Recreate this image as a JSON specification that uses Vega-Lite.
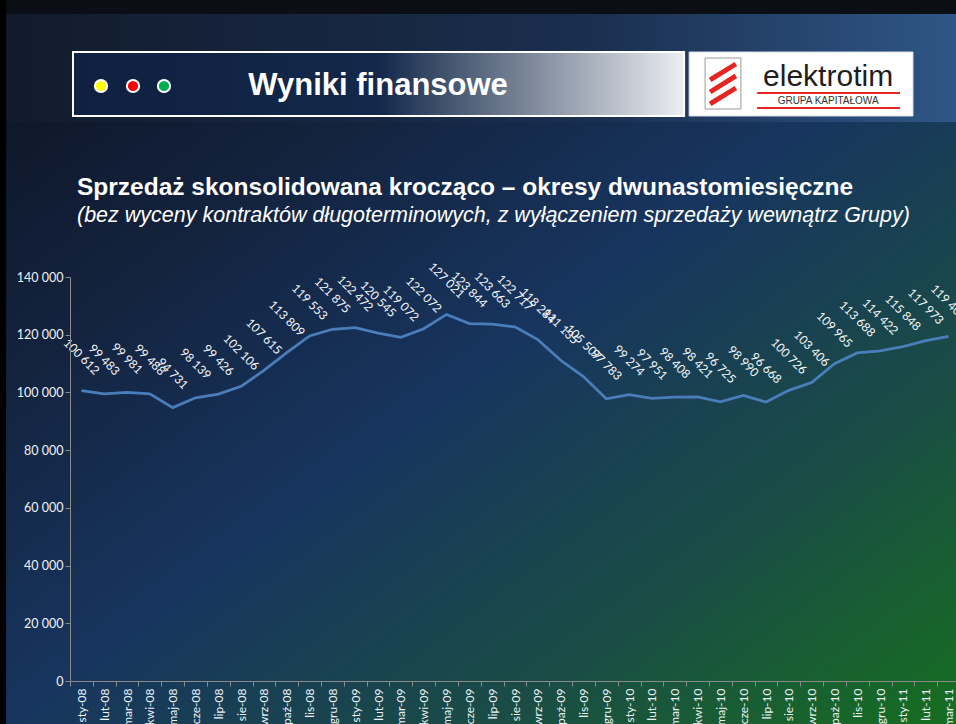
{
  "$schema": "https://vega.github.io/schema/vega-lite/v6.json",
  "autosize": {"type": "none"},
  "padding": {"left": 70, "top": 277, "right": 0, "bottom": 43},
  "width": 890,
  "height": 404,
  "background": "#0d1524",
  "config": {
    "view": {"stroke": null},
    "locale": {"number": {"decimal": ",", "thousands": " ", "grouping": [3], "currency": ["", ""]}}
  },
  "datasets": {
    "sprzedaz": [
      {"m": "sty-08", "v": 100612}, {"m": "lut-08", "v": 99483}, {"m": "mar-08", "v": 99981}, {"m": "kwi-08", "v": 99488},
      {"m": "maj-08", "v": 94731}, {"m": "cze-08", "v": 98139}, {"m": "lip-08", "v": 99426}, {"m": "sie-08", "v": 102106},
      {"m": "wrz-08", "v": 107615}, {"m": "paź-08", "v": 113809}, {"m": "lis-08", "v": 119553}, {"m": "gru-08", "v": 121875},
      {"m": "sty-09", "v": 122472}, {"m": "lut-09", "v": 120545}, {"m": "mar-09", "v": 119072}, {"m": "kwi-09", "v": 122072},
      {"m": "maj-09", "v": 127021}, {"m": "cze-09", "v": 123844}, {"m": "lip-09", "v": 123663}, {"m": "sie-09", "v": 122717},
      {"m": "wrz-09", "v": 118284}, {"m": "paź-09", "v": 111135}, {"m": "lis-09", "v": 105507}, {"m": "gru-09", "v": 97783},
      {"m": "sty-10", "v": 99274}, {"m": "lut-10", "v": 97951}, {"m": "mar-10", "v": 98408}, {"m": "kwi-10", "v": 98421},
      {"m": "maj-10", "v": 96725}, {"m": "cze-10", "v": 98990}, {"m": "lip-10", "v": 96668}, {"m": "sie-10", "v": 100726},
      {"m": "wrz-10", "v": 103406}, {"m": "paź-10", "v": 109965}, {"m": "lis-10", "v": 113688}, {"m": "gru-10", "v": 114422},
      {"m": "sty-11", "v": 115848}, {"m": "lut-11", "v": 117973}, {"m": "mar-11", "v": 119404}
    ],
    "one": [{}]
  },
  "layer": [
    {
      "data": {"name": "one"},
      "mark": {"type": "rect", "fill": {"gradient": "linear", "x1": 0, "y1": 0, "x2": 1, "y2": 1, "stops": [{"offset": 0, "color": "#0b1220"}, {"offset": 0.25, "color": "#13213b"}, {"offset": 0.5, "color": "#17355f"}, {"offset": 0.75, "color": "#1a4d45"}, {"offset": 1, "color": "#16721c"}]}},
      "encoding": {
        "x": {"datum": "sty-08", "type": "ordinal", "bandPosition": -4}, "x2": {"datum": "sty-08", "bandPosition": 40},
        "y": {"datum": 240000, "type": "quantitative", "scale": {"domain": [0, 140000], "nice": false, "zero": false}}, "y2": {"datum": -20000}
      }
    },
    {
      "data": {"name": "one"},
      "mark": {"type": "rect", "fill": "#0b0e14"},
      "encoding": {
        "x": {"datum": "sty-08", "type": "ordinal", "bandPosition": -4}, "x2": {"datum": "sty-08", "bandPosition": 40},
        "y": {"datum": 240000, "type": "quantitative", "scale": {"domain": [0, 140000], "nice": false, "zero": false}}, "y2": {"datum": 231139}
      }
    },
    {
      "data": {"name": "one"},
      "mark": {"type": "rect", "fill": {"gradient": "linear", "x1": 0, "y1": 0, "x2": 1, "y2": 0, "stops": [{"offset": 0, "color": "#111a2b"}, {"offset": 0.6, "color": "#1a2e4e"}, {"offset": 1, "color": "#30598a"}]}},
      "encoding": {
        "x": {"datum": "sty-08", "type": "ordinal", "bandPosition": -4}, "x2": {"datum": "sty-08", "bandPosition": 40},
        "y": {"datum": 231139, "type": "quantitative", "scale": {"domain": [0, 140000], "nice": false, "zero": false}}, "y2": {"datum": 193713}
      }
    },
    {
      "data": {"name": "one"},
      "mark": {"type": "rect", "fill": "#000000"},
      "encoding": {
        "x": {"datum": "sty-08", "type": "ordinal", "bandPosition": -4}, "x2": {"datum": "sty-08", "bandPosition": -2.8},
        "y": {"datum": 240000, "type": "quantitative", "scale": {"domain": [0, 140000], "nice": false, "zero": false}}, "y2": {"datum": -20000}
      }
    },
    {
      "data": {"name": "one"},
      "mark": {"type": "rect", "stroke": "#ffffff", "strokeWidth": 2, "fill": {"gradient": "linear", "x1": 0, "y1": 0, "x2": 1, "y2": 0, "stops": [{"offset": 0, "color": "#0f2040"}, {"offset": 0.5, "color": "#13284a"}, {"offset": 0.78, "color": "#8a95a5"}, {"offset": 1, "color": "#eceef2"}]}},
      "encoding": {
        "x": {"datum": "sty-08", "type": "ordinal", "bandPosition": 0.131}, "x2": {"datum": "sty-08", "bandPosition": 26.91},
        "y": {"datum": 217970, "type": "quantitative", "scale": {"domain": [0, 140000], "nice": false, "zero": false}}, "y2": {"datum": 195792}
      }
    },
    {
      "data": {"name": "one"},
      "mark": {"type": "rect", "fill": "#ffffff", "stroke": "#d8dde5", "strokeWidth": 1},
      "encoding": {
        "x": {"datum": "sty-08", "type": "ordinal", "bandPosition": 27.13}, "x2": {"datum": "sty-08", "bandPosition": 36.94},
        "y": {"datum": 217970, "type": "quantitative", "scale": {"domain": [0, 140000], "nice": false, "zero": false}}, "y2": {"datum": 195792}
      }
    },
    {
      "data": {"name": "one"},
      "mark": {"type": "rect", "fill": "#ffffff", "stroke": "#9a9a9a", "strokeWidth": 1},
      "encoding": {
        "x": {"datum": "sty-08", "type": "ordinal", "bandPosition": 27.83}, "x2": {"datum": "sty-08", "bandPosition": 29.40},
        "y": {"datum": 215891, "type": "quantitative", "scale": {"domain": [0, 140000], "nice": false, "zero": false}}, "y2": {"datum": 198218}
      }
    },
    {
      "data": {"name": "one"},
      "mark": {"type": "rule", "stroke": "#e52521", "strokeWidth": 5},
      "encoding": {
        "x": {"datum": "sty-08", "type": "ordinal", "bandPosition": 28.05}, "x2": {"datum": "sty-08", "bandPosition": 29.18},
        "y": {"datum": 208268, "type": "quantitative", "scale": {"domain": [0, 140000], "nice": false, "zero": false}}, "y2": {"datum": 213812}
      }
    },
    {
      "data": {"name": "one"},
      "mark": {"type": "rule", "stroke": "#e52521", "strokeWidth": 5},
      "encoding": {
        "x": {"datum": "sty-08", "type": "ordinal", "bandPosition": 28.05}, "x2": {"datum": "sty-08", "bandPosition": 29.18},
        "y": {"datum": 204109, "type": "quantitative", "scale": {"domain": [0, 140000], "nice": false, "zero": false}}, "y2": {"datum": 209654}
      }
    },
    {
      "data": {"name": "one"},
      "mark": {"type": "rule", "stroke": "#e52521", "strokeWidth": 5},
      "encoding": {
        "x": {"datum": "sty-08", "type": "ordinal", "bandPosition": 28.05}, "x2": {"datum": "sty-08", "bandPosition": 29.18},
        "y": {"datum": 199951, "type": "quantitative", "scale": {"domain": [0, 140000], "nice": false, "zero": false}}, "y2": {"datum": 205495}
      }
    },
    {
      "data": {"name": "one"},
      "mark": {"type": "rule", "stroke": "#e52521", "strokeWidth": 2},
      "encoding": {
        "x": {"datum": "sty-08", "type": "ordinal", "bandPosition": 30.11}, "x2": {"datum": "sty-08", "bandPosition": 36.37},
        "y": {"datum": 203763, "type": "quantitative", "scale": {"domain": [0, 140000], "nice": false, "zero": false}}
      }
    },
    {
      "data": {"name": "one"},
      "mark": {"type": "rule", "stroke": "#e52521", "strokeWidth": 2},
      "encoding": {
        "x": {"datum": "sty-08", "type": "ordinal", "bandPosition": 30.11}, "x2": {"datum": "sty-08", "bandPosition": 36.37},
        "y": {"datum": 198565, "type": "quantitative", "scale": {"domain": [0, 140000], "nice": false, "zero": false}}
      }
    },
    {
      "data": {"name": "one"},
      "mark": {"type": "text", "text": "elektrotim", "font": "Liberation Sans", "fontSize": 30, "color": "#1e1e1e", "align": "center", "baseline": "middle"},
      "encoding": {"x": {"datum": "sty-08", "type": "ordinal", "bandPosition": 33.22}, "y": {"datum": 209307, "type": "quantitative", "scale": {"domain": [0, 140000], "nice": false, "zero": false}}}
    },
    {
      "data": {"name": "one"},
      "mark": {"type": "text", "text": "GRUPA KAPITAŁOWA", "font": "Liberation Sans", "fontSize": 10, "color": "#333333", "align": "center", "baseline": "middle"},
      "encoding": {"x": {"datum": "sty-08", "type": "ordinal", "bandPosition": 33.22}, "y": {"datum": 200990, "type": "quantitative", "scale": {"domain": [0, 140000], "nice": false, "zero": false}}}
    },
    {
      "data": {"name": "one"},
      "mark": {"type": "point", "filled": true, "fill": "#ffff00", "stroke": "#ffffff", "strokeWidth": 2, "size": 150, "opacity": 1},
      "encoding": {"x": {"datum": "sty-08", "type": "ordinal", "bandPosition": 1.358}, "y": {"datum": 206188, "type": "quantitative", "scale": {"domain": [0, 140000], "nice": false, "zero": false}}}
    },
    {
      "data": {"name": "one"},
      "mark": {"type": "point", "filled": true, "fill": "#ff0000", "stroke": "#ffffff", "strokeWidth": 2, "size": 150, "opacity": 1},
      "encoding": {"x": {"datum": "sty-08", "type": "ordinal", "bandPosition": 2.761}, "y": {"datum": 206188, "type": "quantitative", "scale": {"domain": [0, 140000], "nice": false, "zero": false}}}
    },
    {
      "data": {"name": "one"},
      "mark": {"type": "point", "filled": true, "fill": "#00b050", "stroke": "#ffffff", "strokeWidth": 2, "size": 150, "opacity": 1},
      "encoding": {"x": {"datum": "sty-08", "type": "ordinal", "bandPosition": 4.119}, "y": {"datum": 206188, "type": "quantitative", "scale": {"domain": [0, 140000], "nice": false, "zero": false}}}
    },
    {
      "data": {"name": "one"},
      "mark": {"type": "text", "text": "Wyniki finansowe", "font": "Liberation Sans", "fontWeight": "bold", "fontSize": 31, "color": "#ffffff", "align": "center", "baseline": "middle"},
      "encoding": {"x": {"datum": "sty-08", "type": "ordinal", "bandPosition": 13.5}, "y": {"datum": 206188, "type": "quantitative", "scale": {"domain": [0, 140000], "nice": false, "zero": false}}}
    },
    {
      "data": {"name": "one"},
      "mark": {"type": "text", "text": "Sprzedaż skonsolidowana krocząco – okresy dwunastomiesięczne", "font": "Liberation Sans", "fontWeight": "bold", "fontSize": 24.5, "color": "#ffffff", "align": "left", "baseline": "middle"},
      "encoding": {"x": {"datum": "sty-08", "type": "ordinal", "bandPosition": 0.307}, "y": {"datum": 170842, "type": "quantitative", "scale": {"domain": [0, 140000], "nice": false, "zero": false}}}
    },
    {
      "data": {"name": "one"},
      "mark": {"type": "text", "text": "(bez wyceny kontraktów długoterminowych, z wyłączeniem sprzedaży  wewnątrz Grupy)", "font": "Liberation Sans", "fontStyle": "italic", "fontSize": 21.5, "color": "#ffffff", "align": "left", "baseline": "middle"},
      "encoding": {"x": {"datum": "sty-08", "type": "ordinal", "bandPosition": 0.307}, "y": {"datum": 161139, "type": "quantitative", "scale": {"domain": [0, 140000], "nice": false, "zero": false}}}
    },
    {
      "data": {"name": "sprzedaz"},
      "mark": {"type": "line", "color": "#4a7ebb", "strokeWidth": 2.75},
      "encoding": {
        "x": {"field": "m", "type": "ordinal", "sort": null, "scale": {"paddingInner": 0, "paddingOuter": 0},
          "axis": {"title": null, "labelAngle": 270, "tickBand": "extent", "tickColor": "#8a8a8a", "domainColor": "#8a8a8a", "labelColor": "#eef2f6", "labelFont": "Lato", "labelFontSize": 12, "zindex": 1}},
        "y": {"field": "v", "type": "quantitative", "scale": {"domain": [0, 140000], "nice": false, "zero": false},
          "axis": {"title": null, "values": [0, 20000, 40000, 60000, 80000, 100000, 120000, 140000], "format": ",d", "gridColor": "#8d939c", "tickColor": "#8a8a8a", "domainColor": "#8a8a8a", "labelColor": "#eef2f6", "labelFont": "Lato", "labelFontSize": 12.5, "zindex": 1}}
      }
    },
    {
      "data": {"name": "sprzedaz"},
      "mark": {"type": "text", "angle": 45, "align": "center", "baseline": "middle", "yOffset": -34, "font": "Lato", "fontSize": 12, "color": "#f4f6f8"},
      "encoding": {
        "x": {"field": "m", "type": "ordinal", "sort": null},
        "y": {"field": "v", "type": "quantitative", "scale": {"domain": [0, 140000], "nice": false, "zero": false}},
        "text": {"field": "v", "type": "quantitative", "format": ",d"}
      }
    }
  ]
}
